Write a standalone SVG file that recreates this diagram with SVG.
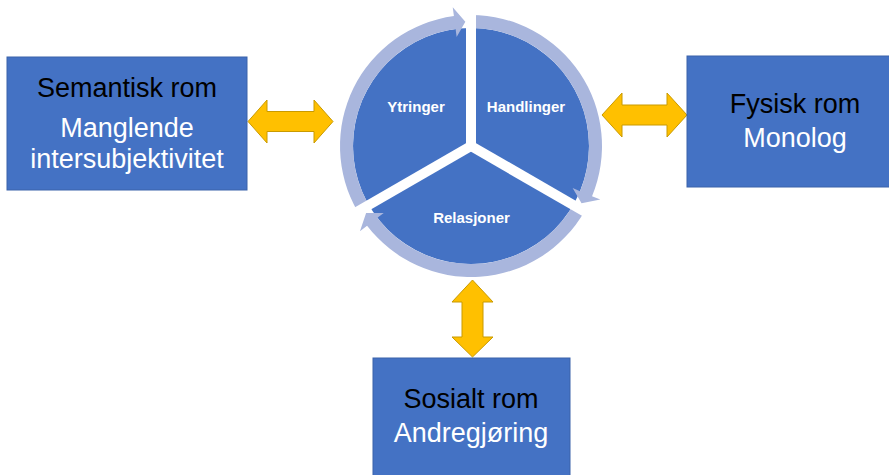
<svg xmlns="http://www.w3.org/2000/svg" xmlns:xlink="http://www.w3.org/1999/xlink" width="889" height="475" viewBox="0 0 889 475">
  <style>
    .box{fill:#4472C4;stroke:#3A62AA;stroke-width:1}
    .t{font-family:"Liberation Sans",Arial,sans-serif;font-size:27px;text-anchor:middle}
    .dark{fill:#000}
    .light{fill:#fff}
    .seg{font-family:"Liberation Sans",Arial,sans-serif;font-size:15px;font-weight:bold;fill:#fff;text-anchor:middle}
    .link{fill:#FFC000;stroke:#C99A00;stroke-width:1}
    .ring{fill:#A9B6DD}
    .spoke{stroke:#fff;stroke-width:10;stroke-linecap:butt}
  </style>
  <defs>
    <!-- one curved arrow of the cycle, spanning -120deg to 0deg around (471,146) -->
    <path id="cycleArrow" class="ring" d="M357.55,211.5 A131,131 0 0 1 453.90,16.12 L452.73,7.20 L465.35,21.63 L456.64,36.94 L455.60,29.01 A118,118 0 0 0 368.81,205 Z"/>
  </defs>

  <!-- central cycle -->
  <g id="cycle">
    <circle cx="471" cy="146" r="118" fill="#4472C4"/>
    <use xlink:href="#cycleArrow"/>
    <use xlink:href="#cycleArrow" transform="rotate(120 471 146)"/>
    <use xlink:href="#cycleArrow" transform="rotate(240 471 146)"/>
    <g class="spoke">
      <line x1="471" y1="146" x2="471" y2="0"/>
      <line x1="471" y1="146" x2="596.6" y2="218.5"/>
      <line x1="471" y1="146" x2="345.4" y2="218.5"/>
    </g>
    <circle cx="471" cy="146" r="5" fill="#fff"/>
  </g>
  <g id="seg-ytringer"><text class="seg" x="416" y="112">Ytringer</text></g>
  <g id="seg-handlinger"><text class="seg" x="526" y="112">Handlinger</text></g>
  <g id="seg-relasjoner"><text class="seg" x="471.5" y="223">Relasjoner</text></g>

  <!-- two-way links -->
  <g id="connectors">
    <path class="link" d="M248,121.5 L267,100 L267,111.5 L314,111.5 L314,100 L333,121.5 L314,143 L314,131.5 L267,131.5 L267,143 Z"/>
    <path class="link" d="M602,115 L622,93 L622,105 L667,105 L667,93 L687,115 L667,137 L667,125 L622,125 L622,137 Z"/>
    <path class="link" d="M472.5,280 L493,302 L483,302 L483,337 L493,337 L472.5,357 L452,337 L462,337 L462,302 L452,302 Z"/>
  </g>

  <g id="semantisk">
    <rect class="box" x="7" y="57" width="240" height="133"/>
    <text class="t dark" x="127" y="97">Semantisk rom</text>
    <text class="t light" x="127" y="137">Manglende</text>
    <text class="t light" x="127" y="168">intersubjektivitet</text>
  </g>

  <g id="fysisk">
    <rect class="box" x="687" y="56" width="220" height="131"/>
    <text class="t dark" x="795" y="113">Fysisk rom</text>
    <text class="t light" x="795" y="147">Monolog</text>
  </g>

  <g id="sosialt">
    <rect class="box" x="373" y="358" width="197" height="130"/>
    <text class="t dark" x="471" y="408">Sosialt rom</text>
    <text class="t light" x="471" y="442">Andregjøring</text>
  </g>
</svg>
